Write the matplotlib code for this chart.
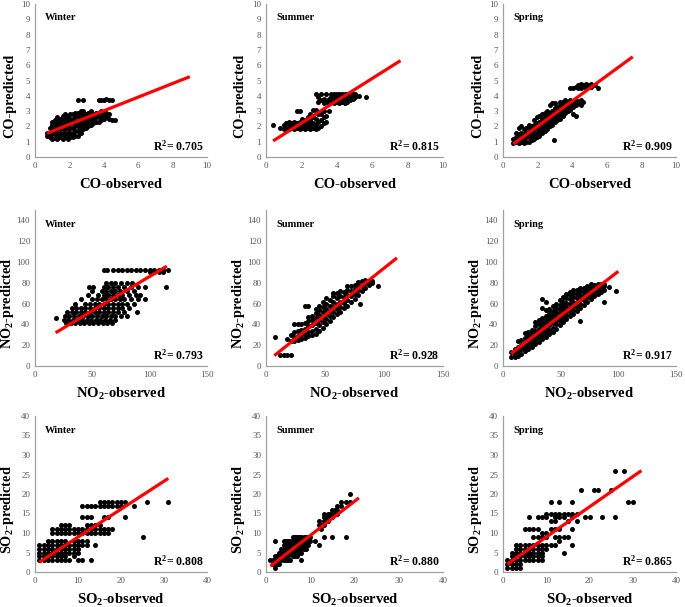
import matplotlib
matplotlib.use('Agg')
import matplotlib.pyplot as plt

plt.rcParams['font.family'] = ['Liberation Serif', 'DejaVu Serif']
plt.rcParams['mathtext.fontset'] = 'custom'
plt.rcParams['mathtext.rm'] = 'Liberation Serif:bold'
plt.rcParams['mathtext.bf'] = 'Liberation Serif:bold'
plt.rcParams['mathtext.default'] = 'bf'

co_winter = {
    0.7: [1.4, 1.6], 0.85: [1.3, 1.6, 1.9], 1.0: [1.2, 1.5, 1.8, 2.1, 2.3],
    1.15: [1.25, 1.55, 1.85, 2.15, 2.4], 1.3: [1.2, 1.5, 1.8, 2.1, 2.4, 2.6],
    1.45: [1.3, 1.6, 1.9, 2.2, 2.5], 1.6: [1.2, 1.5, 1.8, 2.1, 2.4, 2.7],
    1.75: [1.3, 1.6, 1.9, 2.2, 2.5, 2.8], 1.9: [1.2, 1.5, 1.8, 2.1, 2.4, 2.7],
    2.05: [1.3, 1.6, 1.9, 2.2, 2.5, 2.8], 2.2: [1.3, 1.6, 1.9, 2.2, 2.5, 2.8],
    2.35: [1.4, 1.7, 2.0, 2.3, 2.6, 2.9], 2.5: [1.4, 1.7, 2.0, 2.3, 2.6, 2.9, 3.75],
    2.65: [1.6, 1.9, 2.2, 2.5, 2.8, 3.0], 2.8: [1.8, 2.1, 2.4, 2.7, 3.0, 3.75],
    2.95: [1.9, 2.2, 2.5, 2.8], 3.1: [2.0, 2.3, 2.6, 2.9], 3.25: [2.1, 2.4, 2.7, 3.0],
    3.4: [2.2, 2.5, 2.8], 3.55: [2.3, 2.6, 2.9], 3.7: [2.3, 2.6, 2.9, 3.75],
    3.85: [2.4, 2.7, 3.0, 3.75], 4.0: [2.5, 2.8, 3.75], 4.15: [2.6, 2.9, 3.8],
    4.3: [2.5, 2.8, 3.75], 4.5: [2.4, 3.75], 4.65: [2.4],
}
co_summer = {
    0.4: [2.1], 0.8: [1.9], 1.0: [1.8, 2.1], 1.15: [1.9, 2.2], 1.3: [1.8, 2.1, 2.3],
    1.45: [1.9, 2.2], 1.6: [1.8, 2.1, 2.3], 1.75: [1.9, 2.2, 3.0],
    1.9: [1.8, 2.1, 2.3, 3.0], 2.05: [1.9, 2.2, 2.5], 2.2: [1.8, 2.1, 2.4],
    2.35: [1.9, 2.2, 2.6], 2.5: [1.8, 2.1, 2.4, 2.8], 2.65: [1.9, 2.2, 2.6, 3.1],
    2.8: [1.8, 2.1, 2.5, 3.1, 4.1], 2.95: [1.9, 2.3, 2.8, 3.6, 3.9],
    3.1: [2.0, 2.4, 2.8, 3.7, 4.1], 3.25: [2.2, 2.6, 3.0, 3.5, 3.8],
    3.4: [2.3, 2.7, 3.6, 4.1], 3.55: [3.0, 3.5, 3.8], 3.7: [3.6, 3.9, 4.15],
    3.85: [3.5, 3.8, 4.1], 4.0: [3.6, 3.9, 4.15], 4.15: [3.5, 3.8, 4.1],
    4.3: [3.6, 3.9, 4.15], 4.45: [3.5, 3.8, 4.1], 4.6: [3.6, 3.9, 4.15],
    4.75: [3.7, 4.0], 4.9: [3.8, 4.1], 5.05: [3.9, 4.1], 5.25: [4.0], 5.65: [3.9],
}
co_spring = {
    0.6: [0.9, 1.2], 0.75: [1.0, 1.3, 1.6], 0.9: [0.9, 1.2, 1.5, 1.9],
    1.05: [1.0, 1.3, 1.6, 2.0], 1.2: [0.9, 1.2, 1.5, 1.8], 1.35: [1.0, 1.3, 1.6, 1.9],
    1.5: [1.0, 1.3, 1.6, 1.9, 2.1], 1.65: [1.1, 1.4, 1.7, 2.0],
    1.8: [1.2, 1.5, 1.8, 2.1, 2.4], 1.95: [1.3, 1.6, 1.9, 2.2, 2.6],
    2.1: [1.4, 1.7, 2.0, 2.3, 2.7], 2.25: [1.6, 1.9, 2.2, 2.5, 2.8],
    2.4: [1.7, 2.0, 2.3, 2.6, 2.9], 2.55: [1.8, 2.1, 2.4, 2.7, 3.0],
    2.7: [2.0, 2.3, 2.6, 2.9, 3.4], 2.85: [2.1, 2.4, 2.7, 3.0, 3.5], 2.95: [1.1],
    3.0: [2.3, 2.6, 2.9, 3.2, 3.5], 3.15: [2.4, 2.7, 3.0, 3.3],
    3.3: [2.5, 2.8, 3.1, 3.4, 3.6], 3.45: [2.7, 3.0, 3.3, 3.6],
    3.6: [2.9, 3.2, 3.5, 3.7], 3.75: [3.0, 3.3, 3.6], 3.9: [3.1, 3.4, 3.7, 4.5],
    4.05: [2.8, 3.3, 3.6, 4.5], 4.2: [2.7, 3.4, 3.7, 4.6], 4.35: [3.5, 4.5, 4.7],
    4.5: [3.4, 3.7, 4.5, 4.8], 4.65: [3.6, 4.7], 4.8: [4.5, 4.8], 4.95: [4.7],
    5.1: [4.6, 4.8], 5.3: [4.7], 5.5: [4.5],
}
# predicted level -> observed values
no2_winter = {
    92: [60, 63, 68, 72, 76, 80, 84, 88, 92, 96, 100, 104, 108, 112, 116],
    90: [100, 104, 108, 112],
    80: [62, 66, 70, 75, 80, 85],
    76: [47, 51, 60, 64, 68, 72, 78, 84, 90, 96, 114],
    72: [50, 58, 62, 66, 70, 74, 80, 86],
    68: [46, 55, 60, 64, 68, 72, 76, 82, 88, 92],
    64: [40, 50, 54, 58, 62, 66, 70, 74, 78, 84, 90, 96],
    60: [35, 44, 48, 52, 56, 60, 64, 68, 72, 76, 80, 86],
    56: [32, 36, 40, 44, 48, 52, 56, 60, 64, 68, 72, 76, 82],
    52: [28, 32, 36, 40, 44, 48, 52, 56, 60, 64, 68, 72, 78, 89],
    48: [26, 30, 34, 38, 42, 46, 50, 54, 58, 62, 66, 70, 75, 80],
    46: [18],
    44: [25, 29, 33, 37, 41, 45, 49, 53, 57, 61, 65, 70],
    41: [27, 31, 35, 39, 43, 47, 51, 55, 59, 63, 67],
}
# observed value -> predicted values
no2_summer = {
    8: [28], 12: [11], 15: [11], 18: [11, 26], 21: [11, 24, 30],
    24: [24, 28, 33, 40], 27: [25, 29, 34, 40], 30: [26, 30, 35, 40],
    33: [27, 31, 36, 41, 58], 36: [29, 33, 38, 43, 47, 58], 39: [30, 34, 39, 44, 48],
    42: [31, 36, 41, 46, 51, 55], 45: [34, 39, 44, 49, 54, 58],
    48: [37, 42, 47, 52, 57, 62], 51: [40, 45, 50, 55, 60, 65],
    54: [43, 48, 53, 58, 63], 57: [47, 52, 57, 62, 67, 70], 60: [50, 55, 60, 65, 70],
    63: [52, 57, 62, 67, 72], 66: [56, 61, 66, 71], 69: [58, 63, 68, 73, 77],
    72: [62, 67, 72, 77], 75: [64, 69, 74, 78], 78: [68, 73, 78, 81], 80: [60],
    81: [72, 77, 82], 84: [75, 80, 83], 87: [78, 82], 90: [80, 82], 95: [77],
}
no2_spring = {
    7: [9, 13], 10: [9, 12, 16], 13: [10, 14, 18, 24], 16: [12, 16, 20, 25],
    19: [14, 18, 22, 27, 32], 22: [16, 20, 24, 29, 33], 25: [18, 22, 26, 31, 35],
    28: [21, 25, 29, 34, 38, 42], 31: [23, 27, 31, 36, 40, 44],
    34: [26, 30, 34, 38, 42, 46, 56, 64], 37: [28, 32, 36, 40, 44, 48, 54, 62],
    40: [31, 35, 39, 43, 47, 51, 55], 43: [33, 37, 41, 45, 49, 53, 58],
    46: [36, 40, 44, 48, 52, 56, 60], 49: [39, 43, 47, 51, 55, 59, 63],
    52: [42, 46, 50, 54, 58, 62, 66], 55: [45, 49, 53, 57, 61, 65, 69],
    58: [48, 52, 56, 60, 64, 68, 71], 61: [50, 54, 58, 62, 66, 70, 73],
    64: [53, 57, 61, 65, 69, 73], 67: [43, 56, 60, 64, 68, 72, 75],
    70: [59, 63, 67, 71, 75], 73: [62, 66, 70, 74, 77], 76: [64, 68, 72, 76, 79],
    79: [67, 71, 75, 78], 82: [69, 73, 77, 79], 85: [71, 75, 79],
    88: [62, 73, 77, 79], 92: [76], 98: [72],
}
# predicted level -> observed values
so2_winter = {
    18: [15, 16, 17, 18, 19, 20, 21, 26, 31],
    17: [11, 12, 13, 14, 15, 16, 17, 18, 19, 20, 23],
    14: [11, 12, 13, 16, 17, 21],
    12: [6, 7, 8, 12, 13, 14, 15],
    11: [4, 5, 6, 7, 8, 9, 10, 11, 12, 13, 14, 15, 16, 17, 18],
    10: [4, 5, 6, 7, 8, 9, 10, 11, 12, 13, 14, 15, 16, 17],
    9: [25],
    8: [3, 4, 5, 6, 7, 9, 10, 11, 12],
    7: [1, 2, 3, 4, 5, 6, 7, 8, 9, 10, 11, 12, 14],
    6: [1, 2, 3, 4, 5, 6, 7, 8, 9, 10],
    5: [1, 2, 3, 4, 5, 6, 7, 8, 9, 10],
    4: [1, 2, 3, 4, 5, 6, 7, 9],
    3: [1, 2, 3, 4, 5, 6, 7, 8, 10, 11, 13],
}
# observed value -> predicted values
so2_summer = {
    1: [3], 1.5: [2, 3], 2: [1, 2, 3, 4, 8], 2.5: [2, 3, 4], 3: [2, 3, 4, 5],
    3.5: [3, 4, 5, 6], 4: [3, 4, 5, 6, 7, 8], 4.5: [3, 4, 5, 6, 7, 8],
    5: [3, 4, 5, 6, 7, 8], 5.5: [3, 5, 6, 7, 8], 6: [4, 5, 6, 7, 8, 9],
    6.5: [4, 5, 6, 7, 8, 9], 7: [4, 5, 6, 7, 8, 9], 7.5: [5, 6, 7, 8, 9],
    8: [3, 5, 6, 7, 8, 9], 8.5: [6, 7, 8, 9], 9: [6, 7, 8, 9], 9.5: [7, 8, 9],
    10: [8, 9], 11: [8], 12: [7, 12, 13], 12.5: [11, 12], 13: [9, 12, 13, 14, 15],
    13.5: [13, 14], 14: [13, 14, 15], 14.5: [14, 15], 15: [9, 14, 15, 16],
    15.5: [15, 16], 16: [15, 16, 17], 17: [17, 18], 18: [9, 18], 19: [18, 20],
}
# predicted level -> observed values
so2_spring = {
    26: [26, 28],
    21: [18, 21, 22, 25],
    18: [11, 13, 16, 29, 30],
    15: [10, 11, 12, 13, 14, 15, 16, 17],
    14: [6, 8, 9, 10, 12, 13, 14, 16, 19, 20, 23, 26],
    13: [11, 12, 15, 17],
    11: [5, 6, 7, 8, 11, 12, 13, 16],
    10: [9, 10],
    9: [7, 8, 9, 10, 12, 13, 14, 15],
    8: [13],
    7: [3, 4, 5, 6, 7, 8, 9, 10, 11, 12, 16],
    6: [3, 4, 5, 6, 7, 8, 9, 10],
    5: [2, 3, 4, 5, 6, 7, 8, 9, 14],
    4: [2, 3, 4, 5, 6, 7, 8, 9],
    3: [1, 2, 3, 4, 5, 6, 7, 8, 9],
    2: [1, 2, 3, 4],
    1: [1, 2, 3, 4],
}

# trend line end points (observed, predicted)
fit_co = [([0.7, 9.0], [1.55, 5.25]), ([0.4, 7.6], [1.05, 6.3]), ([0.6, 7.5], [0.85, 6.55])]
fit_no2 = [([18, 115], [32, 96]), ([7, 111], [10, 104]), ([7, 100], [12, 91])]
fit_so2 = [([1, 31], [2.5, 24]), ([1, 21], [1.5, 19]), ([1, 32], [2, 26])]

seasons = ['Winter', 'Summer', 'Spring']
r2_co = ['0.705', '0.815', '0.909']
r2_no2 = ['0.793', '0.928', '0.917']
r2_so2 = ['0.808', '0.880', '0.865']


def by_x(d):
    xs, ys = [], []
    for k, v in d.items():
        xs += [k] * len(v)
        ys += v
    return xs, ys


def by_y(d):
    xs, ys = [], []
    for k, v in d.items():
        xs += v
        ys += [k] * len(v)
    return xs, ys


rows = [
    dict(pts=[by_x(co_winter), by_x(co_summer), by_x(co_spring)], fit=fit_co, r2=r2_co,
         xlim=10, xt=[0, 2, 4, 6, 8, 10], ylim=10, yt=range(0, 11),
         xl='CO-observed', yl='CO-predicted', px=(4, 157), xly=-0.14),
    dict(pts=[by_y(no2_winter), by_x(no2_summer), by_x(no2_spring)], fit=fit_no2, r2=r2_no2,
         xlim=150, xt=[0, 50, 100, 150], ylim=150, yt=range(0, 141, 20),
         xl='NO$_2$-observed', yl='NO$_2$-predicted', px=(210, 366), xly=-0.13),
    dict(pts=[by_y(so2_winter), by_x(so2_summer), by_y(so2_spring)], fit=fit_so2, r2=r2_so2,
         xlim=40, xt=[0, 10, 20, 30, 40], ylim=40, yt=range(0, 41, 5),
         xl='SO$_2$-observed', yl='SO$_2$-predicted', px=(416, 572), xly=-0.125),
]
cols = [(35, 172), (266, 177), (503, 173)]

W, H = 685, 607
fig = plt.figure(figsize=(W / 100, H / 100), dpi=100)

for r, row in enumerate(rows):
    top, bot = row['px']
    for c, (left, width) in enumerate(cols):
        ax = fig.add_axes([left / W, 1 - bot / H, width / W, (bot - top) / H])
        xs, ys = row['pts'][c]
        ax.scatter(xs, ys, s=13, color='black', linewidths=0, zorder=2)
        fx, fy = row['fit'][c]
        ax.plot(fx, fy, color='#ff0000', lw=2.3, zorder=3, solid_capstyle='butt')
        ax.set_xlim(0, row['xlim'])
        ax.set_ylim(0, row['ylim'])
        ax.set_xticks(row['xt'])
        ax.set_yticks(list(row['yt']))
        for s in ['top', 'right']:
            ax.spines[s].set_visible(False)
        for s in ['left', 'bottom']:
            ax.spines[s].set_color('#a0a0a0')
            ax.spines[s].set_linewidth(0.9)
        ax.tick_params(length=0, labelsize=6.5, labelcolor='#595959', pad=3.5)
        ax.set_xlabel(row['xl'], fontsize=10.5, fontweight='bold')
        ax.set_ylabel(row['yl'], fontsize=10.3, fontweight='bold')
        ax.xaxis.set_label_coords(0.5, row['xly'])
        ax.yaxis.set_label_coords(-0.11, 0.4)
        ax.text(0.06, 0.91, seasons[c], transform=ax.transAxes, fontsize=7.5,
                fontweight='bold', va='center', ha='left')
        ax.text(0.98, 0.07, 'R$^2$= ' + row['r2'][c], transform=ax.transAxes,
                fontsize=8.5, fontweight='bold', va='center', ha='right')

fig.savefig('out.png', dpi=100)
